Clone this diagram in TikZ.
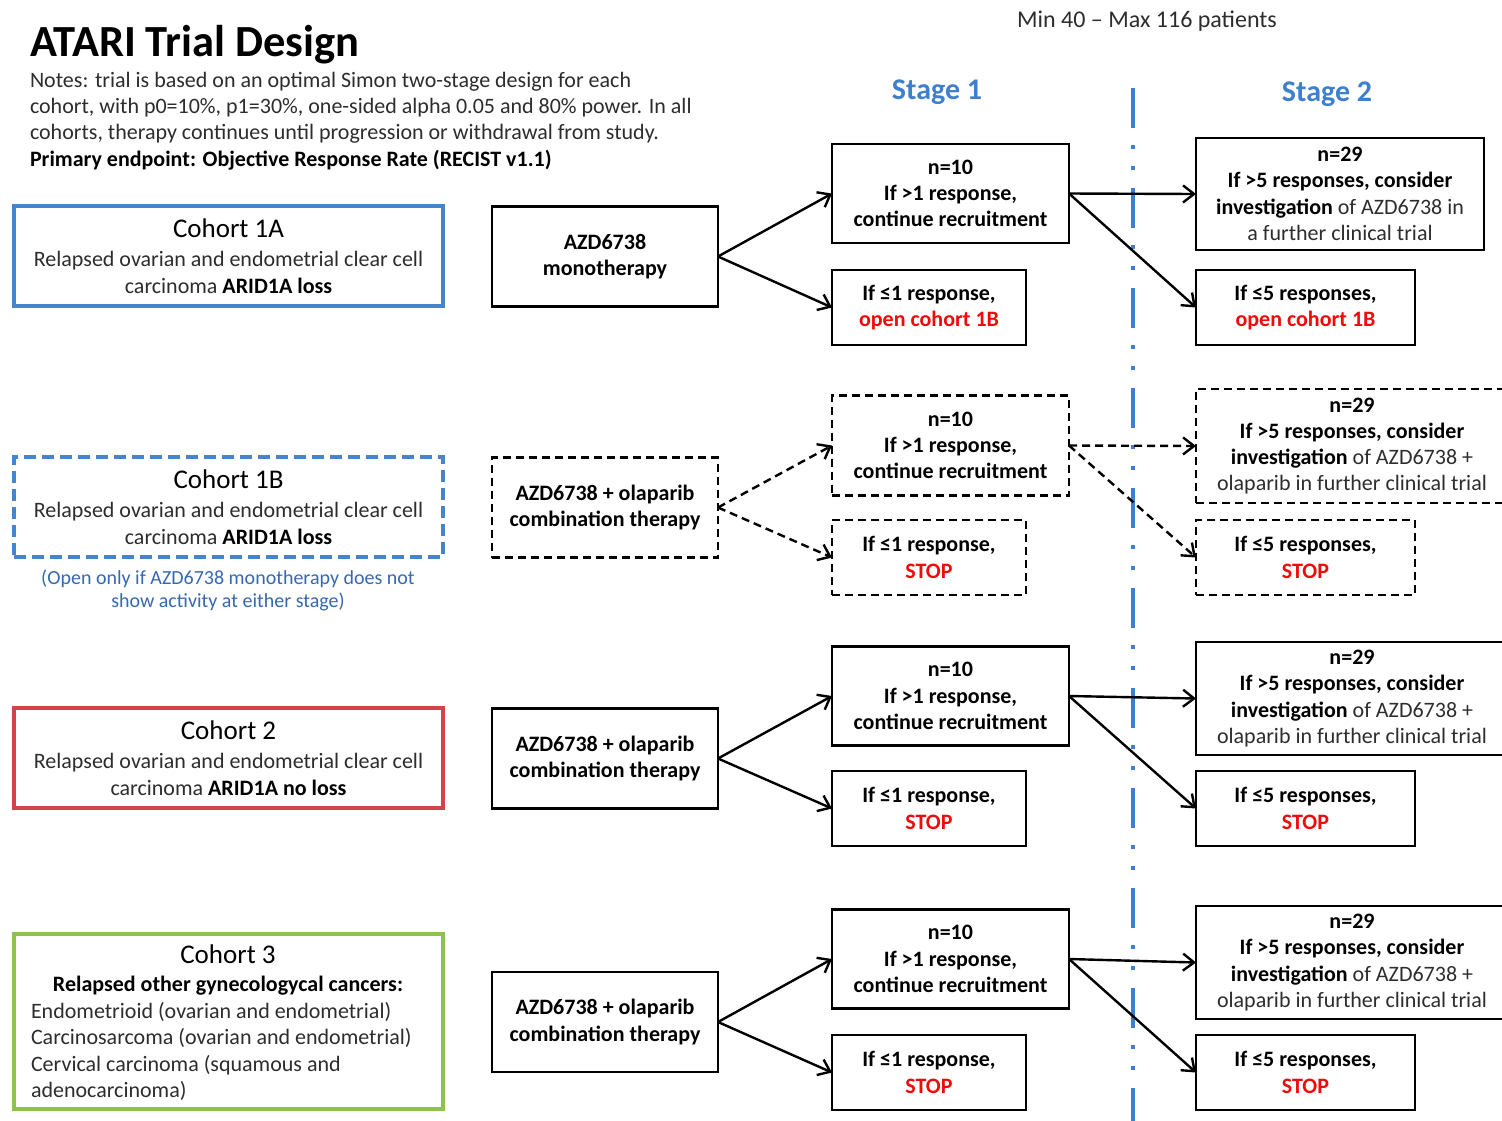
\documentclass[tikz,border=0pt]{standalone}
\usepackage{fontspec}
\setmainfont{Carlito}
\usetikzlibrary{arrows.meta}
\definecolor{cohblue}{RGB}{70,132,204}
\definecolor{stageblue}{RGB}{62,128,205}
\definecolor{cohred}{RGB}{214,66,74}
\definecolor{cohgreen}{RGB}{140,194,78}
\definecolor{noteblue}{RGB}{55,105,175}
\definecolor{alertred}{RGB}{240,10,10}
\definecolor{bodygray}{RGB}{45,45,45}
\newcommand{\cohtitle}[1]{{\color{black}\fontsize{27}{32}\selectfont #1}}
\newcommand{\rg}[1]{{\mdseries\color{bodygray}#1}}
\newcommand{\alertw}[1]{{\color{alertred}#1}}
\begin{document}
\begin{tikzpicture}[x=1pt,y=-1pt,
  every node/.style={inner sep=0pt, outer sep=0pt},
  bodyfont/.style={font=\fontsize{22}{26.5}\selectfont},
  flowbox/.style={draw=black, line width=2.8pt, align=center, font=\bfseries\fontsize{22}{26.3}\selectfont, text=black},
  dashbox/.style={flowbox, dash pattern=on 8pt off 5pt},
  cohort/.style={draw=#1, line width=3.5pt, minimum width=429pt, align=center, bodyfont, text=bodygray},
  stagefont/.style={font=\bfseries\fontsize{30}{36}\selectfont, text=stageblue},
  arr/.style={line width=2.4pt, -{Straight Barb[length=11pt,width=17pt]}},
  darr/.style={arr, dash pattern=on 8pt off 5pt},
]
\useasboundingbox (0,0) rectangle (1502,1120);
\clip (0,0) rectangle (1502,1120);
\fill[white] (0,0) rectangle (1502,1120);

% header
\node[anchor=base west, font=\bfseries\fontsize{44.5}{53}\selectfont] (title) at (30,56) {ATARI Trial Design};
\node[anchor=base west, bodyfont, text=bodygray] (note1) at (30,87) {Notes: trial is based on an optimal Simon two-stage design for each};
\node[anchor=base west, bodyfont, text=bodygray] (note2) at (30,113) {cohort, with p0=10\%, p1=30\%, one-sided alpha 0.05 and 80\% power. In all};
\node[anchor=base west, bodyfont, text=bodygray] (note3) at (30,139) {cohorts, therapy continues until progression or withdrawal from study.};
\node[anchor=base west, font=\bfseries\fontsize{22}{26.5}\selectfont] (note4) at (30,166) {Primary endpoint: Objective Response Rate (RECIST v1.1)};
\node[anchor=base, font=\fontsize{24}{28}\selectfont, text=bodygray] (minmax) at (1147,27) {Min 40 – Max 116 patients};
\node[anchor=base, stagefont] (stage1) at (937,99) {Stage 1};
\node[anchor=base, stagefont] (stage2) at (1327,101) {Stage 2};

% divider
\coordinate (divtop) at (1133,88);
\coordinate (divbot) at (1133,1125);
\draw[stageblue, line width=3.5pt, dash pattern=on 40pt off 17pt on 4pt off 17pt on 4pt off 18pt] (divtop) -- (divbot);

% cohorts
\node[cohort=cohblue, minimum height=100pt] (c1a) at (228.5,256) {\cohtitle{Cohort 1A}\\[3pt] Relapsed ovarian and endometrial clear cell\\ carcinoma \textbf{\color{black}ARID1A loss}};
\node[cohort=cohblue, minimum height=100pt, dash pattern=on 12pt off 6pt] (c1b) at (228.5,507) {\cohtitle{Cohort 1B}\\[3pt] Relapsed ovarian and endometrial clear cell\\ carcinoma \textbf{\color{black}ARID1A loss}};
\node[anchor=base, font=\fontsize{20}{23}\selectfont, text=noteblue] (c1bn1) at (228,584) {(Open only if AZD6738 monotherapy does not};
\node[anchor=base, font=\fontsize{20}{23}\selectfont, text=noteblue] (c1bn2) at (228,607) {show activity at either stage)};
\node[cohort=cohred, minimum height=100pt] (c2) at (228.5,758) {\cohtitle{Cohort 2}\\[3pt] Relapsed ovarian and endometrial clear cell\\ carcinoma \textbf{\color{black}ARID1A no loss}};
\node[cohort=cohgreen, minimum height=175pt] (c3) at (228.5,1021.5) {};
\node[anchor=base] (c3t) at (228,963) {\cohtitle{Cohort 3}};
\node[anchor=base, font=\bfseries\fontsize{22}{26.5}\selectfont] (c3s) at (228,991) {Relapsed other gynecologycal cancers:};
\node[anchor=base west, bodyfont, text=bodygray] (c3l1) at (31,1018) {Endometrioid (ovarian and endometrial)};
\node[anchor=base west, bodyfont, text=bodygray] (c3l2) at (31,1044) {Carcinosarcoma (ovarian and endometrial)};
\node[anchor=base west, bodyfont, text=bodygray] (c3l3) at (31,1071) {Cervical carcinoma (squamous and};
\node[anchor=base west, bodyfont, text=bodygray] (c3l4) at (31,1097) {adenocarcinoma)};

% therapies
\node[flowbox, minimum width=226pt, minimum height=100pt] (t1) at (605,256.5) {AZD6738\\monotherapy};
\node[dashbox, minimum width=226pt, minimum height=100pt] (t2) at (605,507.5) {AZD6738 + olaparib\\combination therapy};
\node[flowbox, minimum width=226pt, minimum height=100pt] (t3) at (605,758.5) {AZD6738 + olaparib\\combination therapy};
\node[flowbox, minimum width=226pt, minimum height=100pt] (t4) at (605,1022) {AZD6738 + olaparib\\combination therapy};

% stage 1
\node[flowbox, minimum width=237pt, minimum height=99pt] (n1) at (950.5,193.5) {n=10\\If >1 response,\\continue recruitment};
\node[dashbox, minimum width=237pt, minimum height=100pt] (n2) at (950.5,445.5) {n=10\\If >1 response,\\continue recruitment};
\node[flowbox, minimum width=237pt, minimum height=99pt] (n3) at (950.5,696) {n=10\\If >1 response,\\continue recruitment};
\node[flowbox, minimum width=237pt, minimum height=99pt] (n4) at (950.5,959) {n=10\\If >1 response,\\continue recruitment};

\node[flowbox, minimum width=194pt, minimum height=75pt] (p1) at (929,307.5) {If ≤1 response,\\\alertw{open cohort 1B}};
\node[dashbox, minimum width=194pt, minimum height=75pt] (p2) at (929,557.5) {If ≤1 response,\\\alertw{STOP}};
\node[flowbox, minimum width=194pt, minimum height=75pt] (p3) at (929,808.5) {If ≤1 response,\\\alertw{STOP}};
\node[flowbox, minimum width=194pt, minimum height=75pt] (p4) at (929,1072.5) {If ≤1 response,\\\alertw{STOP}};

% stage 2
\node[flowbox, minimum width=288pt, minimum height=112pt] (m1) at (1340,194) {n=29\\If >5 responses, consider\\investigation \rg{of AZD6738 in}\\\rg{a further clinical trial}};
\node[dashbox, minimum width=312pt, minimum height=114pt] (m2) at (1352,446) {n=29\\If >5 responses, consider\\investigation \rg{of AZD6738 +}\\\rg{olaparib in further clinical trial}};
\node[flowbox, minimum width=312pt, minimum height=113pt] (m3) at (1352,698.5) {n=29\\If >5 responses, consider\\investigation \rg{of AZD6738 +}\\\rg{olaparib in further clinical trial}};
\node[flowbox, minimum width=312pt, minimum height=113pt] (m4) at (1352,962.5) {n=29\\If >5 responses, consider\\investigation \rg{of AZD6738 +}\\\rg{olaparib in further clinical trial}};

\node[flowbox, minimum width=219pt, minimum height=75pt] (q1) at (1305.5,307.5) {If ≤5 responses,\\\alertw{open cohort 1B}};
\node[dashbox, minimum width=219pt, minimum height=75pt] (q2) at (1305.5,557.5) {If ≤5 responses,\\\alertw{STOP}};
\node[flowbox, minimum width=219pt, minimum height=75pt] (q3) at (1305.5,808.5) {If ≤5 responses,\\\alertw{STOP}};
\node[flowbox, minimum width=219pt, minimum height=75pt] (q4) at (1305.5,1072.5) {If ≤5 responses,\\\alertw{STOP}};

% arrows
\draw[arr] (t1.east) -- (n1.west);
\draw[arr] (t1.east) -- (p1.west);
\draw[arr] (n1.east) -- (m1.west);
\draw[arr] (n1.east) -- (q1.west);
\draw[darr] (t2.east) -- (n2.west);
\draw[darr] (t2.east) -- (p2.west);
\draw[darr] (n2.east) -- (m2.west);
\draw[darr] (n2.east) -- (q2.west);
\draw[arr] (t3.east) -- (n3.west);
\draw[arr] (t3.east) -- (p3.west);
\draw[arr] (n3.east) -- (m3.west);
\draw[arr] (n3.east) -- (q3.west);
\draw[arr] (t4.east) -- (n4.west);
\draw[arr] (t4.east) -- (p4.west);
\draw[arr] (n4.east) -- (m4.west);
\draw[arr] (n4.east) -- (q4.west);
\end{tikzpicture}
\end{document}
